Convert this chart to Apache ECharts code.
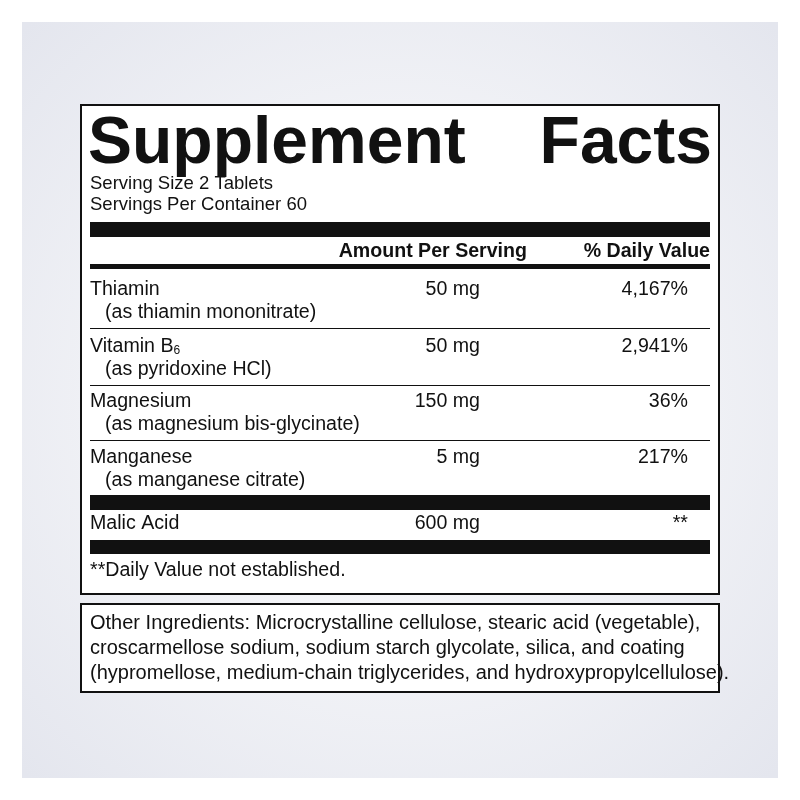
<!DOCTYPE html>
<html><head><meta charset="utf-8">
<script src="https://cdn.jsdelivr.net/npm/echarts@6/dist/echarts.min.js"></script>
<style>html,body{margin:0;padding:0;background:#fff}#c{width:800px;height:800px}</style>
</head><body><div id="c"></div>
<script>
const title = ["Supplement", "Facts"];
const servingLines = ["Serving Size 2 Tablets", "Servings Per Container 60"];
const headers = ["Amount Per Serving", "% Daily Value"];
const nutrients = ["Thiamin", "Vitamin B{sub|6}", "Magnesium", "Manganese"];
const sources = ["(as thiamin mononitrate)", "(as pyridoxine HCl)", "(as magnesium bis-glycinate)", "(as manganese citrate)"];
const amounts = ["50 mg", "50 mg", "150 mg", "5 mg"];
const dailyValues = ["4,167%", "2,941%", "36%", "217%"];
const otherName = ["Malic Acid"], otherAmount = ["600 mg"], otherDV = ["**"];
const footnote = "**Daily Value not established.";
const ingredients = [
 "Other Ingredients: Microcrystalline cellulose, stearic acid (vegetable),",
 "croscarmellose sodium, sodium starch glycolate, silica, and coating",
 "(hypromellose, medium-chain triglycerides, and hydroxypropylcellulose)."
];

const F = "'Liberation Sans Narrow','Liberation Sans',Arial,sans-serif";
const g = [];
g.push({type:'rect',shape:{x:22,y:22,width:756,height:756},style:{fill:{type:'radial',x:0.5,y:0.5,r:0.7,colorStops:[{offset:0,color:'#ffffff'},{offset:1,color:'#e4e6ee'}]}}});
function box(x,y,w,h){g.push({type:'rect',shape:{x,y,width:w,height:h},style:{fill:'#fff',stroke:'#111',lineWidth:2}});}
function bar(y,h){g.push({type:'rect',shape:{x:90,y,width:620,height:h},style:{fill:'#111'}});}
function txt(t,x,y,opt){g.push({type:'text',x,y,style:Object.assign({text:t,fill:'#111',font:'19.6px '+F,textVerticalAlign:'middle',rich:{sub:{fontSize:12,padding:[8,0,0,0],fontFamily:F,fill:'#111'}}},opt||{})});}
box(81,105,638,489);
box(81,604,638,88);
txt(title[0],88,145,{font:'900 66px "Liberation Sans",Arial,sans-serif'});
txt(title[1],712,145,{font:'900 66px "Liberation Sans",Arial,sans-serif',textAlign:'right'});
servingLines.forEach((s,i)=>txt(s,90,184+i*21,{font:'18.5px '+F}));
bar(222,15);
txt(headers[0],527,252,{font:'bold 19.6px '+F,textAlign:'right'});
txt(headers[1],710,252,{font:'bold 19.6px '+F,textAlign:'right'});
bar(264,5);
const rowY=[290,347,402,458];
nutrients.forEach((n,i)=>{
  const y=rowY[i];
  txt(n,90,y);
  txt(sources[i],105,y+23);
  txt(amounts[i],480,y,{textAlign:'right'});
  txt(dailyValues[i],688,y,{textAlign:'right'});
  if(i<3) g.push({type:'rect',shape:{x:90,y:y+38,width:620,height:1},style:{fill:'#111'}});
});
bar(495,15);
txt(otherName[0],90,524);txt(otherAmount[0],480,524,{textAlign:'right'});txt(otherDV[0],688,524,{textAlign:'right'});
bar(540,14);
txt(footnote,90,571);
ingredients.forEach((s,i)=>txt(s,90,623+i*25,{font:'20px '+F}));
const chart=echarts.init(document.getElementById('c'));
chart.setOption({animation:false,graphic:g});
</script></body></html>
